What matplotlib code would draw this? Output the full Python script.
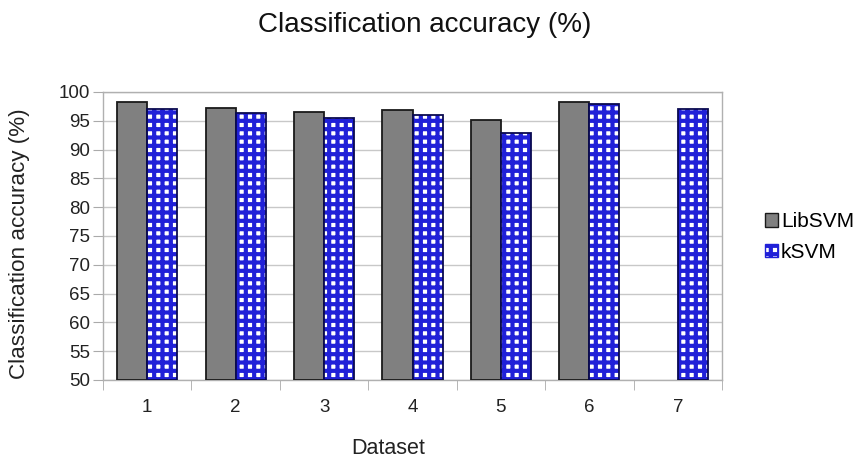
import matplotlib
matplotlib.use("Agg")
import matplotlib.pyplot as plt
import numpy as np
from matplotlib.patches import Patch

plt.rcParams['font.family'] = ['Liberation Sans', 'DejaVu Sans']
plt.rcParams['hatch.linewidth'] = 3.0

datasets = ["1", "2", "3", "4", "5", "6", "7"]
libsvm = [98.3, 97.3, 96.5, 96.8, 95.1, 98.3, None]
ksvm = [97.0, 96.3, 95.4, 96.0, 92.8, 98.0, 97.0]
yticks = list(range(50, 101, 5))

fig = plt.figure(figsize=(8.58, 4.59), dpi=100)
ax = fig.add_axes([103/858, 1-380/459, (722-103)/858, (380-92)/459])

x = np.arange(len(datasets))
w = 0.34
lx = [xi - w/2 for xi, v in zip(x, libsvm) if v is not None]
lv = [v - 50 for v in libsvm if v is not None]
ax.bar(lx, lv, w, bottom=50, color='#808080', edgecolor='#1a1a1a', linewidth=1.3, zorder=3)
kv = np.array(ksvm) - 50
ax.bar(x + w/2, kv, w, bottom=50, facecolor='white',
       edgecolor='#2020d8', hatch='++', linewidth=0, zorder=3)
ax.bar(x + w/2, kv, w, bottom=50, fill=False,
       edgecolor='#0a0a50', linewidth=1.3, zorder=4)

ax.set_xlim(-0.5, len(datasets) - 0.5)
ax.set_ylim(50, 100)
ax.set_yticks(yticks)
ax.set_xticks(x)
ax.set_xticklabels(datasets)
ax.set_xticks(np.arange(-0.5, len(datasets)), minor=True)
ax.tick_params(axis='x', which='major', length=0, pad=14, labelsize=13.5, colors='#222222')
ax.tick_params(axis='x', which='minor', length=7, color='#aaaaaa', direction='out')
ax.tick_params(axis='y', length=7, color='#aaaaaa', labelsize=13.5, labelcolor='#222222', pad=2)
ax.grid(axis='y', color='#c8c8c8', linewidth=1, zorder=0)
for s in ax.spines.values():
    s.set_color('#b0b0b0')
    s.set_linewidth(1)

fig.text(388/858, 1-448/459, "Dataset", ha='center', va='center',
         fontsize=15.5, color='#222222')
fig.text(20/858, 1-244/459, "Classification accuracy (%)", ha='center', va='center',
         rotation=90, fontsize=16.2, color='#222222')
fig.text(425/858, 1-25/459, "Classification accuracy (%)", ha='center', va='center',
         fontsize=20, color='#111111')

handles = [Patch(facecolor='#808080', edgecolor='#1a1a1a', label='LibSVM'),
           Patch(facecolor='white', edgecolor='#2020d8', hatch='++', label='kSVM')]
fig.legend(handles=handles, loc='center left', bbox_to_anchor=(765/858, 1-237/459),
           frameon=False, fontsize=15, handlelength=0.62, handleheight=0.62,
           handletextpad=0.15, labelspacing=0.55, borderpad=0, borderaxespad=0)

fig.savefig("out.png", dpi=100)
